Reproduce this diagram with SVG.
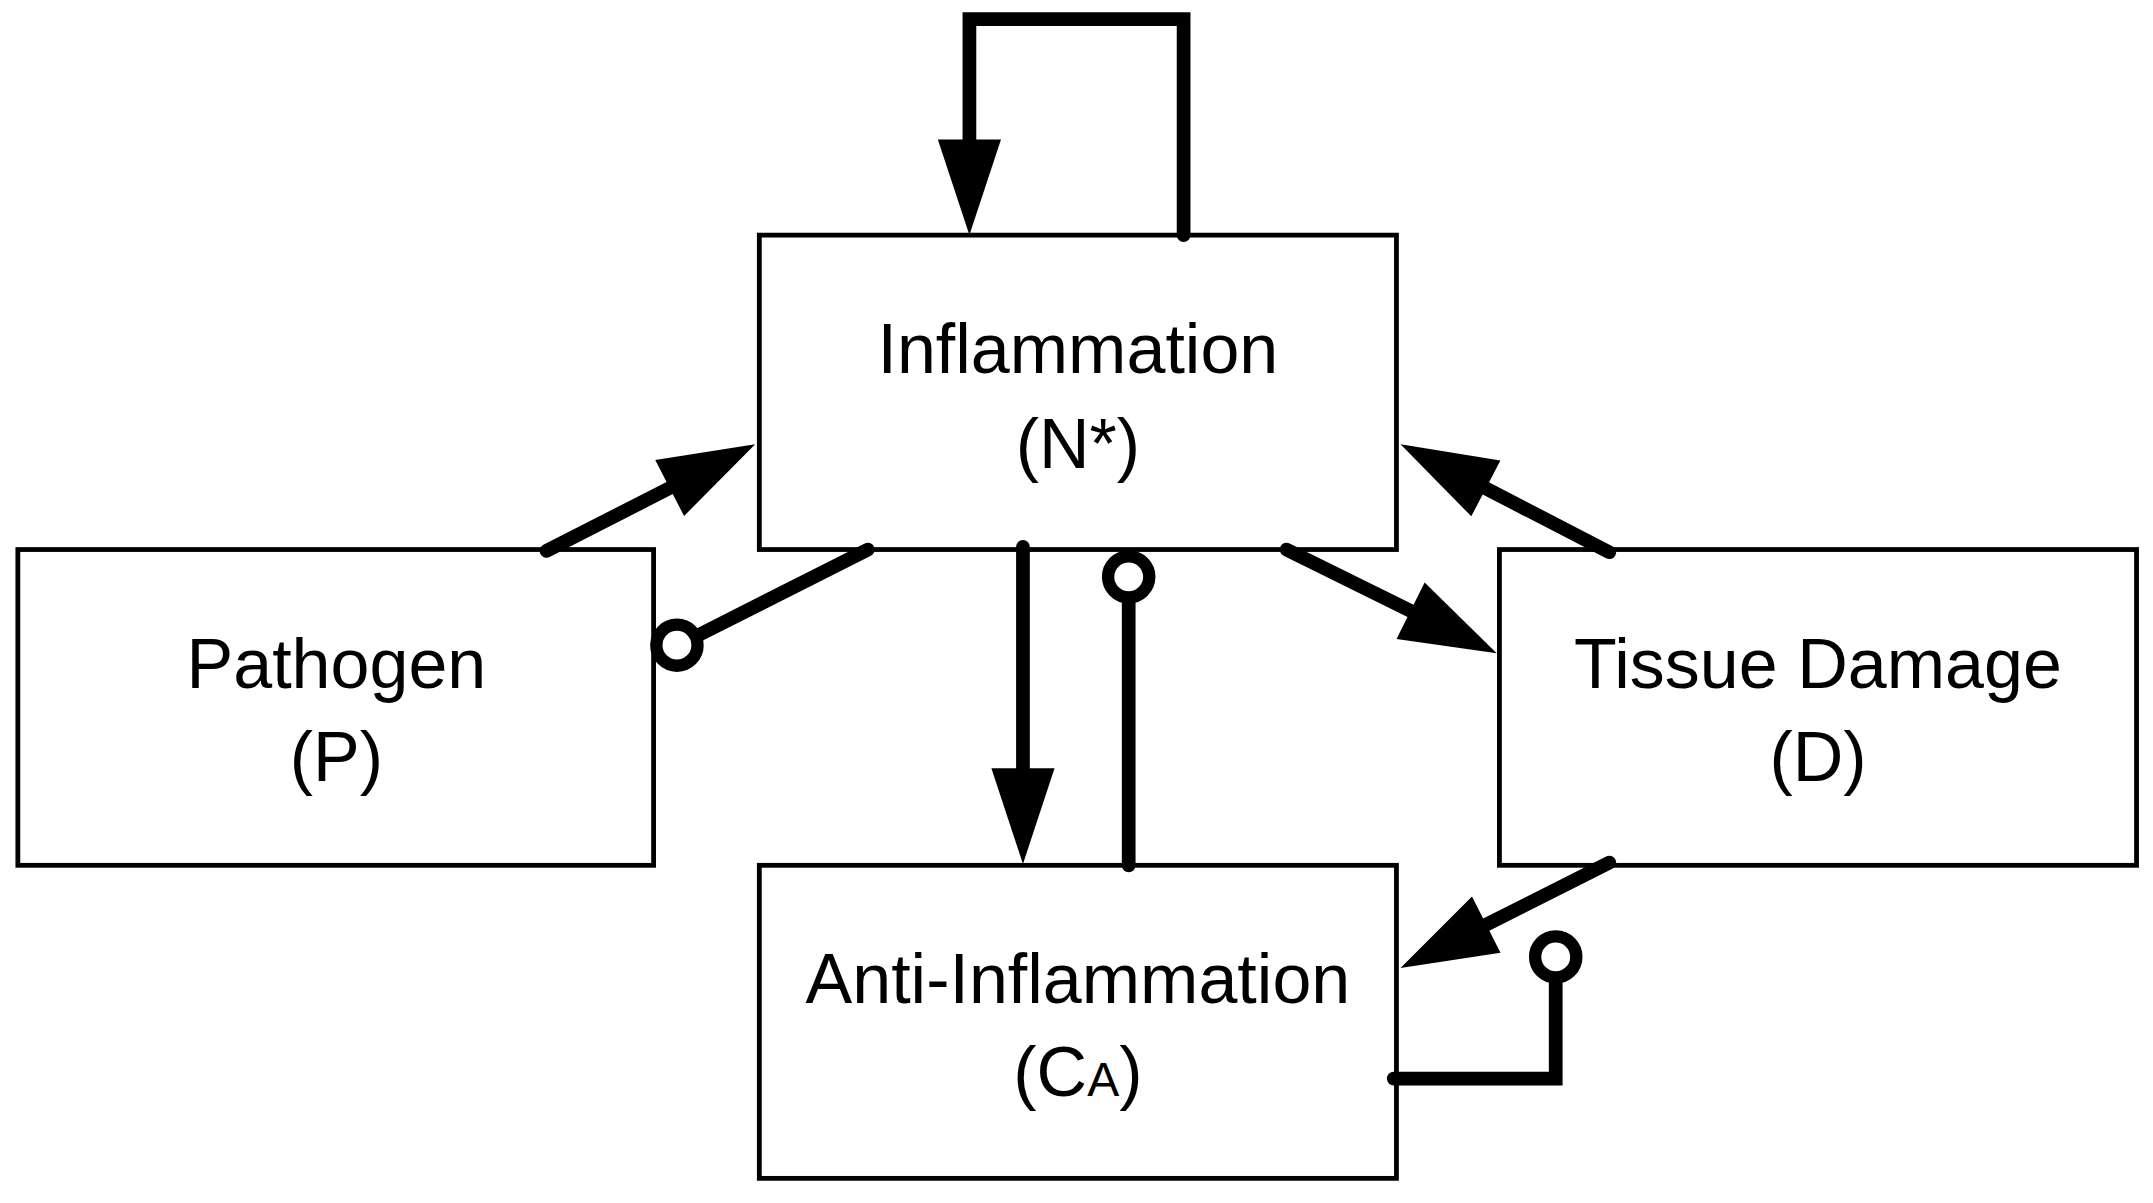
<svg xmlns="http://www.w3.org/2000/svg" width="2153" height="1203" viewBox="0 0 2153 1203">
<style>
.box{fill:#fff;stroke:#000;stroke-width:3.5}
.t{font-family:"Liberation Sans",Arial,sans-serif;font-size:51px;text-anchor:middle;fill:#000}
.c{fill:none;stroke:#000;stroke-width:10;stroke-linecap:round;stroke-linejoin:miter}
.cir{fill:#fff;stroke:#000;stroke-width:9}
</style>
<defs>
<marker id="ah" markerUnits="userSpaceOnUse" markerWidth="80" markerHeight="50" refX="0" refY="0" viewBox="0 -25 80 50" orient="auto" overflow="visible">
<path d="M0,-23 L70,0 L0,23 z" fill="#000"/>
</marker>
</defs>
<rect width="2153" height="1203" fill="#fff"/>
<g transform="scale(1.3731,1.367)">
<g id="inflammation"><rect class="box" x="553" y="172" width="464" height="230"/><text class="t" x="785" y="273">Inflammation</text><text class="t" x="785" y="342">(N*)</text></g>
<g id="pathogen"><rect class="box" x="13" y="402" width="463" height="231"/><text class="t" x="245" y="503">Pathogen</text><text class="t" x="245" y="571">(P)</text></g>
<g id="tissue"><rect class="box" x="1092" y="402" width="464" height="231"/><text class="t" x="1324" y="503">Tissue Damage</text><text class="t" x="1324" y="571">(D)</text></g>
<g id="anti"><rect class="box" x="553" y="633" width="464" height="229"/><text class="t" x="785" y="734">Anti-Inflammation</text><text class="t" x="785" y="802">(C<tspan font-size="35">A</tspan>)</text></g>
<g id="connectors">
<path class="c" d="M862,172 V14 H706 V102" marker-end="url(#ah)"/>
<path class="c" d="M398,403 L487.7,357" marker-end="url(#ah)"/>
<path class="c" d="M1172,404 L1082.1,357.3" marker-end="url(#ah)"/>
<path class="c" d="M937,402 L1027.3,446.8" marker-end="url(#ah)"/>
<path class="c" d="M1172,631 L1082.4,676.4" marker-end="url(#ah)"/>
<path class="c" d="M745,400 V562" marker-end="url(#ah)"/>
<path class="c" d="M632,402 L506,466"/><circle class="cir" cx="493" cy="472" r="15"/>
<path class="c" d="M822,633 V437"/><circle class="cir" cx="822" cy="422" r="15"/>
<path class="c" d="M1015,789 H1133 V715"/><circle class="cir" cx="1133" cy="700" r="15"/>
</g>
</g>
</svg>
